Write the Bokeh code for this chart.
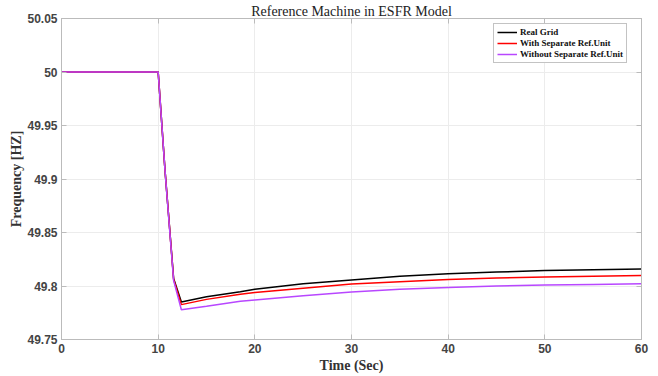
from bokeh.plotting import figure
from bokeh.models import (Range1d, FixedTicker, CustomJSTickFormatter, LinearAxis,
                          Legend, LegendItem)
from bokeh.embed import file_html
from bokeh.resources import INLINE

# ---- data ----
time_s = [0, 10, 10.7, 11.0, 11.6, 12.4, 15, 18.5, 20, 25, 30, 35, 40, 45, 50, 55, 60]
real_grid = [50, 50, 49.909, 49.875, 49.807, 49.785, 49.790, 49.7946, 49.797, 49.802,
             49.8057, 49.809, 49.8115, 49.813, 49.8145, 49.8153, 49.816]
with_sep = [50, 50, 49.909, 49.875, 49.806, 49.7826, 49.7875, 49.7922, 49.794, 49.798,
            49.8019, 49.804, 49.806, 49.8075, 49.8085, 49.8092, 49.8097]
without_sep = [50, 50, 49.909, 49.874, 49.805, 49.7778, 49.781, 49.7858, 49.787, 49.791,
               49.7943, 49.797, 49.7985, 49.800, 49.801, 49.8015, 49.802]
series_names = ["Real Grid", "With Separate Ref.Unit", "Without Separate Ref.Unit"]
x_ticks = [0, 10, 20, 30, 40, 50, 60]
y_ticks = [49.75, 49.8, 49.85, 49.9, 49.95, 50, 50.05]

colors = ["#000000", "#ff0000", "#b847ff"]

p = figure(width=658, height=376, output_backend="svg", toolbar_location=None,
           x_range=Range1d(0, 60), y_range=Range1d(49.75, 50.05),
           min_border_left=61, min_border_right=17, min_border_top=18, min_border_bottom=37)

p.title.text = "Reference Machine in ESFR Model"
p.title.align = "center"
p.title.text_font = "Liberation Serif"
p.title.text_font_style = "normal"
p.title.text_font_size = "14px"
p.title.text_color = "#222222"
p.title.standoff = 0
p.title.offset = 5

fmt = CustomJSTickFormatter(code="return Number(tick.toFixed(2)).toString();")
blank = CustomJSTickFormatter(code="return '';")

p.xaxis.ticker = FixedTicker(ticks=x_ticks)
p.yaxis.ticker = FixedTicker(ticks=y_ticks)
p.yaxis.formatter = fmt
for ax in (p.xaxis[0], p.yaxis[0]):
    ax.major_tick_in = 5
    ax.major_tick_out = 0
    ax.minor_tick_line_color = None
    ax.axis_line_color = "#bbbbbb"
    ax.major_tick_line_color = "#bbbbbb"
    ax.major_label_text_font = "Liberation Sans"
    ax.major_label_text_font_style = "bold"
    ax.major_label_text_font_size = "12px"
    ax.major_label_text_color = "#444444"
    ax.axis_label_text_font = "Liberation Serif"
    ax.axis_label_text_font_style = "bold"
    ax.axis_label_text_font_size = "14px"
    ax.axis_label_text_color = "#333333"
p.xaxis.axis_label = "Time (Sec)"
p.yaxis.axis_label = "Frequency [HZ]"
p.xaxis.major_label_standoff = 4
p.yaxis.major_label_standoff = 4
p.xaxis.axis_label_standoff = 2
p.yaxis.axis_label_standoff = 0

# box sides (top/right) with inward ticks, no labels
top = LinearAxis(ticker=FixedTicker(ticks=x_ticks), formatter=blank,
                 major_tick_in=5, major_tick_out=0, minor_tick_line_color=None,
                 axis_line_color="#bbbbbb", major_tick_line_color="#bbbbbb",
                 major_label_standoff=0)
right = LinearAxis(ticker=FixedTicker(ticks=y_ticks), formatter=blank,
                   major_tick_in=5, major_tick_out=0, minor_tick_line_color=None,
                   axis_line_color="#bbbbbb", major_tick_line_color="#bbbbbb",
                   major_label_standoff=0)
p.add_layout(top, "above")
p.add_layout(right, "right")

p.xgrid.grid_line_color = "#ececec"
p.ygrid.grid_line_color = "#ececec"
p.outline_line_color = "#bbbbbb"

renderers = []
for ys, c in zip([real_grid, with_sep, without_sep], colors):
    r = p.line(time_s, ys, line_color=c, line_width=1.5)
    renderers.append(r)

legend = Legend(items=[LegendItem(label=n, renderers=[r]) for n, r in zip(series_names, renderers)],
                location=(432, 276))
legend.label_text_font = "Liberation Serif"
legend.label_text_font_style = "bold"
legend.label_text_font_size = "9px"
legend.label_text_color = "#111111"
legend.glyph_width = 20
legend.glyph_height = 8
legend.label_height = 8
legend.label_standoff = 3
legend.spacing = 1
legend.padding = 3
legend.margin = 0
legend.border_line_color = "#888888"
legend.background_fill_color = "white"
p.add_layout(legend, "center")

open("out.html", "w").write(file_html(p, INLINE))
